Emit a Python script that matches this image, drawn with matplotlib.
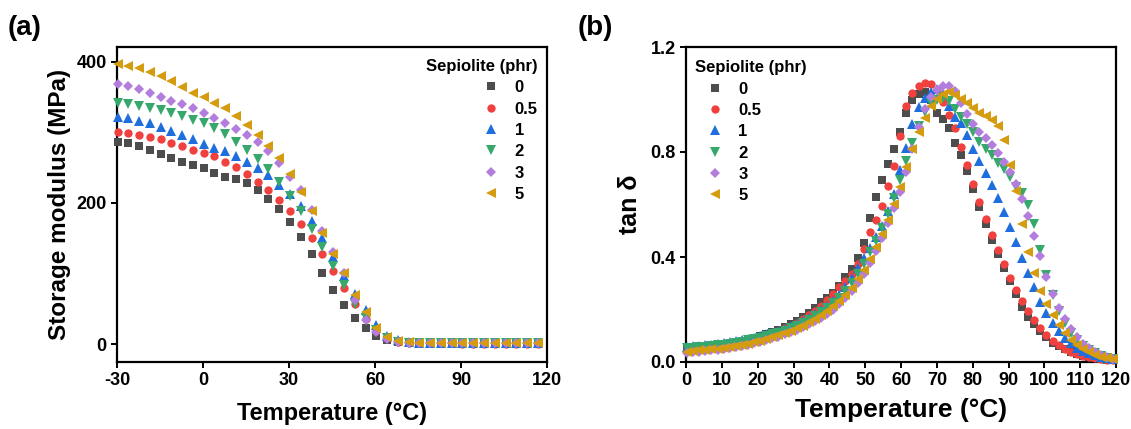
"""
DMA curves of the sepiolite-filled compounds: storage modulus (a) and
loss factor tan delta (b) against temperature.
"""
import matplotlib
matplotlib.use("Agg")
import matplotlib.pyplot as plt
from matplotlib.ticker import FormatStrFormatter

plt.rcParams["font.family"] = ["Liberation Sans", "DejaVu Sans"]
plt.rcParams["font.weight"] = "bold"
plt.rcParams["axes.labelweight"] = "bold"
plt.rcParams["axes.unicode_minus"] = False

# ---- data --------------------------------------------------------------
LOADINGS = ["0", "0.5", "1", "2", "3", "5"]
COLORS = ["#4d4d4d", "#f0413f", "#1f6ede", "#37a86b", "#b27ddd", "#d49c0e"]
MARKERS = ["s", "o", "^", "v", "D", "<"]
MSIZES = [5.4, 6.0, 6.6, 6.6, 5.1, 6.6]

# (a) storage modulus, MPa
temp_a = [-29.8, -26.0, -22.3, -18.5, -14.8, -11.0, -7.2, -3.5, 0.3, 4.0,
          7.8, 11.6, 15.3, 19.1, 22.8, 26.6, 30.4, 34.1, 37.9, 41.6,
          45.4, 49.2, 52.9, 56.7, 60.4, 64.2, 68.0, 71.7, 75.5, 79.2,
          83.0, 86.8, 90.5, 94.3, 98.0, 101.8, 105.6, 109.3, 113.1, 116.8]
e_0 = [287, 285, 281, 275, 269, 263, 258, 254, 249, 243,
       237, 234, 228, 218, 206, 191, 173, 152, 127, 101,
       76, 55, 37, 23, 11, 5, 2.5, 1.5, 1.0, 0.8,
       0.6, 0.5, 0.5, 0.4, 0.4, 0.3, 0.3, 0.3, 0.3, 0.3]
e_05 = [301, 299, 296, 294, 291, 285, 281, 275, 271, 266,
        258, 251, 241, 230, 218, 204, 189, 170, 150, 128,
        104, 80, 57, 36, 19, 8, 3.5, 2.0, 1.4, 1.1,
        0.9, 0.8, 0.7, 0.7, 0.6, 0.6, 0.6, 0.5, 0.5, 0.5]
e_1 = [322, 321, 316, 313, 308, 302, 296, 290, 284, 278,
       273, 266, 258, 249, 239, 226, 212, 196, 175, 150,
       123, 97, 71, 48, 27, 12, 5, 2.5, 1.8, 1.4,
       1.2, 1.1, 1.0, 1.0, 0.9, 0.9, 0.9, 0.8, 0.8, 0.8]
e_2 = [342, 340, 337, 334, 332, 328, 323, 318, 313, 306,
       297, 287, 275, 262, 248, 230, 210, 189, 163, 137,
       111, 83, 57, 37, 20, 8, 3.5, 2.0, 1.5, 1.2,
       1.1, 1.0, 0.9, 0.9, 0.9, 0.8, 0.8, 0.8, 0.8, 0.8]
e_3 = [369, 366, 362, 356, 350, 345, 340, 334, 328, 321,
       313, 305, 296, 286, 273, 256, 237, 218, 190, 160,
       131, 100, 62, 34, 17, 7, 3.0, 2.0, 1.5, 1.2,
       1.0, 0.9, 0.9, 0.8, 0.8, 0.8, 0.8, 0.8, 0.8, 0.8]
e_5 = [397, 394, 391, 386, 380, 373, 364, 356, 350, 342,
       335, 323, 311, 296, 281, 263, 241, 216, 188, 158,
       128, 100, 70, 45, 22, 9.5, 4.7, 2.5, 1.8, 1.5,
       1.3, 1.2, 1.1, 1.1, 1.0, 1.0, 1.0, 1.0, 1.0, 1.0]

# (b) tan delta
temp_b = [0.3, 2.0, 3.7, 5.4, 7.1, 8.8, 10.5, 12.2, 13.9, 15.6,
          17.3, 19.0, 20.7, 22.4, 24.1, 25.8, 27.5, 29.2, 30.9, 32.6,
          34.3, 36.0, 37.7, 39.4, 41.1, 42.8, 44.5, 46.2, 47.9, 49.6,
          51.3, 53.0, 54.7, 56.4, 58.1, 59.8, 61.5, 63.2, 64.9, 66.6,
          68.3, 70.0, 71.7, 73.4, 75.1, 76.8, 78.5, 80.2, 81.9, 83.6,
          85.3, 87.0, 88.7, 90.4, 92.1, 93.8, 95.5, 97.2, 98.9, 100.6,
          102.3, 104.0, 105.7, 107.4, 109.1, 110.8, 112.5, 114.2, 115.9, 117.6,
          119.3]
tan_0 = [0.050, 0.052, 0.054, 0.056, 0.059, 0.062, 0.066, 0.070, 0.074, 0.079,
         0.085, 0.091, 0.098, 0.105, 0.113, 0.122, 0.132, 0.143, 0.156, 0.170,
         0.186, 0.204, 0.228, 0.245, 0.262, 0.290, 0.325, 0.355, 0.395, 0.455,
         0.550, 0.630, 0.695, 0.755, 0.810, 0.875, 0.950, 0.998, 1.020, 1.030,
         1.000, 0.950, 0.925, 0.890, 0.835, 0.790, 0.728, 0.660, 0.590, 0.525,
         0.465, 0.411, 0.360, 0.307, 0.258, 0.210, 0.172, 0.145, 0.117, 0.094,
         0.074, 0.060, 0.048, 0.038, 0.030, 0.024, 0.019, 0.015, 0.011, 0.009,
         0.007]
tan_05 = [0.048, 0.050, 0.052, 0.054, 0.057, 0.060, 0.064, 0.068, 0.072, 0.077,
          0.082, 0.088, 0.095, 0.102, 0.110, 0.118, 0.128, 0.138, 0.150, 0.163,
          0.178, 0.195, 0.214, 0.235, 0.258, 0.284, 0.308, 0.335, 0.375, 0.430,
          0.495, 0.540, 0.595, 0.670, 0.745, 0.860, 0.975, 1.025, 1.050, 1.062,
          1.060, 1.035, 0.990, 0.940, 0.890, 0.820, 0.752, 0.680, 0.610, 0.545,
          0.482, 0.427, 0.372, 0.320, 0.275, 0.233, 0.195, 0.160, 0.130, 0.102,
          0.080, 0.063, 0.050, 0.039, 0.030, 0.023, 0.018, 0.014, 0.010, 0.008,
          0.006]
tan_1 = [0.058, 0.060, 0.062, 0.064, 0.066, 0.069, 0.072, 0.075, 0.079, 0.083,
         0.088, 0.093, 0.099, 0.105, 0.112, 0.119, 0.127, 0.136, 0.146, 0.157,
         0.169, 0.183, 0.198, 0.215, 0.233, 0.256, 0.285, 0.320, 0.358, 0.395,
         0.435, 0.475, 0.520, 0.575, 0.640, 0.730, 0.815, 0.905, 0.970, 1.005,
         1.030, 1.040, 1.020, 0.975, 0.935, 0.910, 0.865, 0.813, 0.767, 0.720,
         0.675, 0.626, 0.570, 0.513, 0.456, 0.397, 0.338, 0.284, 0.228, 0.187,
         0.150, 0.118, 0.092, 0.071, 0.055, 0.043, 0.033, 0.025, 0.019, 0.014,
         0.010]
tan_2 = [0.052, 0.054, 0.056, 0.058, 0.060, 0.063, 0.066, 0.069, 0.073, 0.077,
         0.082, 0.087, 0.092, 0.098, 0.105, 0.112, 0.120, 0.129, 0.138, 0.149,
         0.161, 0.174, 0.189, 0.205, 0.223, 0.244, 0.270, 0.300, 0.335, 0.375,
         0.418, 0.462, 0.512, 0.565, 0.625, 0.695, 0.765, 0.835, 0.900, 0.952,
         0.985, 1.000, 1.005, 0.995, 0.965, 0.935, 0.905, 0.875, 0.840, 0.810,
         0.788, 0.760, 0.735, 0.703, 0.668, 0.645, 0.600, 0.525, 0.425, 0.330,
         0.255, 0.195, 0.148, 0.110, 0.082, 0.060, 0.045, 0.033, 0.024, 0.017,
         0.012]
tan_3 = [0.036, 0.038, 0.040, 0.042, 0.044, 0.047, 0.050, 0.053, 0.057, 0.061,
         0.066, 0.071, 0.077, 0.083, 0.090, 0.097, 0.105, 0.113, 0.122, 0.132,
         0.143, 0.155, 0.168, 0.183, 0.200, 0.220, 0.245, 0.270, 0.300, 0.335,
         0.378, 0.423, 0.473, 0.528, 0.585, 0.648, 0.725, 0.810, 0.895, 0.962,
         1.008, 1.035, 1.050, 1.050, 1.032, 0.988, 0.945, 0.908, 0.876, 0.852,
         0.826, 0.797, 0.762, 0.722, 0.678, 0.620, 0.556, 0.480, 0.404, 0.322,
         0.258, 0.205, 0.162, 0.124, 0.094, 0.070, 0.052, 0.038, 0.027, 0.019,
         0.013]
tan_5 = [0.040, 0.042, 0.044, 0.046, 0.048, 0.051, 0.054, 0.057, 0.061, 0.065,
         0.070, 0.075, 0.081, 0.087, 0.094, 0.101, 0.109, 0.118, 0.128, 0.139,
         0.151, 0.164, 0.178, 0.194, 0.212, 0.232, 0.256, 0.283, 0.315, 0.350,
         0.392, 0.437, 0.487, 0.542, 0.602, 0.668, 0.742, 0.812, 0.877, 0.930,
         0.975, 1.003, 1.020, 1.027, 1.018, 1.003, 0.988, 0.968, 0.950, 0.937,
         0.922, 0.900, 0.845, 0.750, 0.652, 0.525, 0.420, 0.338, 0.272, 0.220,
         0.178, 0.142, 0.110, 0.085, 0.065, 0.050, 0.038, 0.028, 0.020, 0.014,
         0.010]

modulus = [e_0, e_05, e_1, e_2, e_3, e_5]
tan_delta = [tan_0, tan_05, tan_1, tan_2, tan_3, tan_5]


def draw_series(ax, x, series):
    """Scatter every loading with its own marker; returns legend handles."""
    handles = []
    for y, lab, c, m, ms in zip(series, LOADINGS, COLORS, MARKERS, MSIZES):
        h, = ax.plot(x, y, linestyle="none", marker=m, ms=ms, color=c,
                     markeredgewidth=0, label=lab, clip_on=False, zorder=3)
        handles.append(h)
    return handles


def style_axes(ax):
    for sp in ax.spines.values():
        sp.set_linewidth(1.6)
    ax.tick_params(direction="out", length=4.5, width=1.4, labelsize=13, pad=3)


fig = plt.figure(figsize=(11.31, 4.29), dpi=100)
ax_a = fig.add_axes([117 / 1131, 67 / 429, 430 / 1131, 315 / 429])
ax_b = fig.add_axes([686 / 1131, 67 / 429, 430 / 1131, 315 / 429])

legend_kw = dict(
    title="Sepiolite (phr)", frameon=False, borderpad=0, borderaxespad=0,
    handlelength=2.4, handletextpad=0.2, labelspacing=0.38,
    prop={"weight": "bold", "size": 12},
    title_fontproperties={"weight": "bold", "size": 12},
)

# (a) storage modulus
h = draw_series(ax_a, temp_a, modulus)
style_axes(ax_a)
ax_a.set_xlim(-30, 120)
ax_a.set_ylim(-25.5, 421)
ax_a.set_xticks([-30, 0, 30, 60, 90, 120])
ax_a.set_yticks([0, 200, 400])
ax_a.set_xlabel("Temperature (°C)", fontsize=17, labelpad=9)
ax_a.set_ylabel("Storage modulus (MPa)", fontsize=17.5, labelpad=4)
ax_a.legend(handles=h, loc="upper right", bbox_to_anchor=(0.978, 0.962),
            alignment="right", **legend_kw)

# (b) tan delta
h = draw_series(ax_b, temp_b, tan_delta)
style_axes(ax_b)
ax_b.set_xlim(0, 120)
ax_b.set_ylim(0, 1.2)
ax_b.set_xticks(range(0, 121, 10))
ax_b.set_yticks([0.0, 0.4, 0.8, 1.2])
ax_b.yaxis.set_major_formatter(FormatStrFormatter("%.1f"))
ax_b.set_xlabel("Temperature (°C)", fontsize=19, labelpad=6)
ax_b.set_ylabel("tan δ", fontsize=18, labelpad=6)
ax_b.legend(handles=h, loc="upper left", bbox_to_anchor=(0.021, 0.958),
            alignment="left", **legend_kw)

fig.text(8 / 1131, 1 - 28 / 429, "(a)", fontsize=20, fontweight="bold",
         va="center", ha="left")
fig.text(578 / 1131, 1 - 28 / 429, "(b)", fontsize=20, fontweight="bold",
         va="center", ha="left")

fig.savefig("out.png", dpi=100)
